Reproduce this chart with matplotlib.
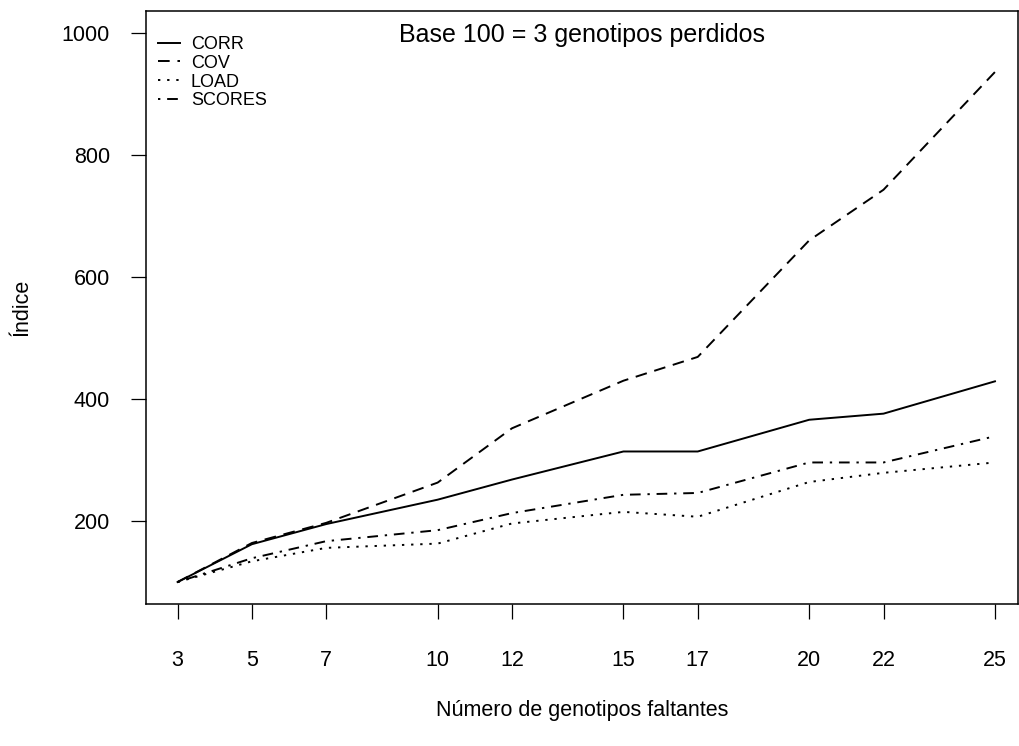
import matplotlib
matplotlib.use("Agg")
import matplotlib.pyplot as plt

plt.rcParams['font.family'] = ['Liberation Sans', 'DejaVu Sans']

x = [3, 5, 7, 10, 12, 15, 17, 20, 22, 25]
corr = [100, 162, 195, 235, 268, 314, 314, 366, 376, 429]
cov = [100, 164, 197, 263, 352, 430, 469, 660, 743, 936]
load = [100, 134, 156, 163, 196, 215, 207, 264, 279, 296]
scores = [100, 139, 167, 185, 213, 243, 246, 296, 296, 339]
series_names = ["CORR", "COV", "LOAD", "SCORES"]
yticks = [200, 400, 600, 800, 1000]

fig = plt.figure(figsize=(10.2, 7.46), dpi=100)
ax = fig.add_axes([146/1020, 1 - 604/746, (1018 - 146)/1020, (604 - 11)/746])

lw = 1.4
styles = [
    dict(linestyle='-'),
    dict(linestyle=(0, (6, 4))),
    dict(linestyle=(0, (1.2, 3.5))),
    dict(linestyle=(0, (1.2, 3.5, 5.5, 3.5))),
]
for data, name, st in zip([corr, cov, load, scores], series_names, styles):
    ax.plot(x, data, color='black', lw=lw, label=name, **st)

ax.set_xlim(2.15, 25.62)
ax.set_ylim(64, 1036)
ax.set_xticks(x)
ax.set_xticklabels([str(v) for v in x])
ax.set_yticks(yticks)
ax.set_yticklabels([str(v) for v in yticks])
ax.tick_params(axis='both', direction='out', length=11, width=0.9, labelsize=15.5, color='black')
ax.tick_params(axis='x', pad=22)
ax.tick_params(axis='y', pad=15)
for sp in ax.spines.values():
    sp.set_linewidth(1.1)

ax.set_xlabel("Número de genotipos faltantes", fontsize=15.5, labelpad=21)
ax.set_ylabel("Índice", fontsize=15.5, labelpad=21)

ax.text(0.5, 0.9595, "Base 100 = 3 genotipos perdidos", transform=ax.transAxes,
        ha='center', va='center', fontsize=18)

leg = ax.legend(loc='upper left', frameon=False, fontsize=13, handlelength=1.25,
                handletextpad=0.6, labelspacing=0.1, borderaxespad=0.0,
                bbox_to_anchor=(0.005, 0.97))

fig.savefig("out.png", dpi=100)
